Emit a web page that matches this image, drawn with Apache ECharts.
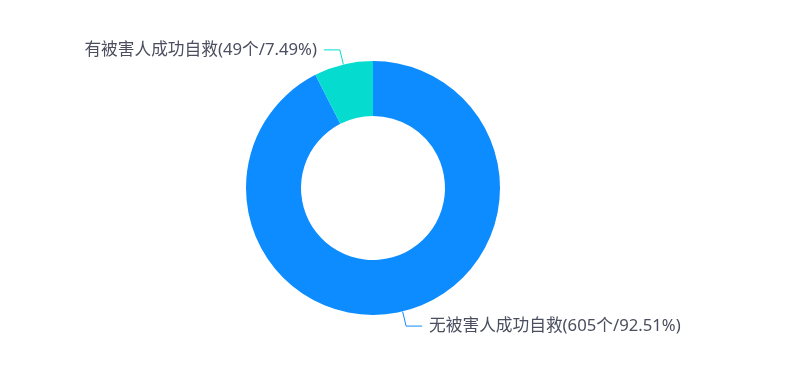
<!DOCTYPE html>
<html>
<head>
<meta charset="utf-8">
<style>
  html, body { margin: 0; padding: 0; background: #fff; }
  #chart { width: 811px; height: 372px; }
</style>
<script src="https://cdn.jsdelivr.net/npm/echarts@6/dist/echarts.min.js"></script>
</head>
<body>
<div id="chart"></div>
<script>
// Outcome categories and counts
const categories = ['无被害人成功自救', '有被害人成功自救'];
const counts = [605, 49];
const percents = ['92.51%', '7.49%'];
const colors = ['#0d8cff', '#05dccf'];

const chart = echarts.init(document.getElementById('chart'));

const data = categories.map((name, i) => ({
  name: name,
  value: counts[i],
  pct: percents[i],
  itemStyle: { color: colors[i] },
  labelLine: { lineStyle: { color: colors[i] } }
}));

chart.setOption({
  animation: false,
  series: [{
    type: 'pie',
    center: [373, 188],
    radius: [72, 127],
    startAngle: 90,
    clockwise: true,
    data: data,
    label: {
      color: '#4a4e5e',
      fontSize: 16.7,
      fontFamily: '"Noto Sans", "Noto Sans CJK SC", sans-serif',
      distanceToLabelLine: 7,
      formatter: p => p.name + '(' + p.value + '个/' + p.data.pct + ')'
    },
    labelLine: { length: 15, length2: 16, lineStyle: { width: 1 } },
    emphasis: { disabled: true }
  }]
});
</script>
</body>
</html>
